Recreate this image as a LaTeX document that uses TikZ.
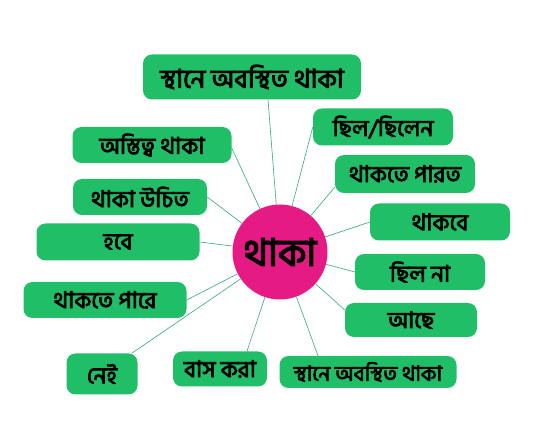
\documentclass[tikz,border=0pt]{standalone}
\usepackage{fontspec}
\newfontfamily\bnfont[Script=Bengali, FakeBold=3.5]{Hind Siliguri}
\usepackage{tikz}
\usetikzlibrary{positioning}

\definecolor{boxgreen}{RGB}{32,190,102}
\definecolor{linkgreen}{RGB}{52,168,118}
\definecolor{hubpink}{RGB}{230,26,132}

\begin{document}
\begin{tikzpicture}[x=1pt, y=-1pt,
      word/.style={fill=boxgreen, rounded corners=9pt, inner sep=0pt,
                   minimum height=36pt, font=\bnfont\fontsize{23}{25}\selectfont},
      hub/.style={circle, fill=hubpink, minimum size=95pt, inner sep=0pt,
                  font=\bnfont\fontsize{38}{41}\selectfont},
      link/.style={draw=linkgreen, line width=0.6pt}]

    \useasboundingbox (0,0) rectangle (560,446);

    % centre word
    \node[hub] (thaka) at (280,252) {থাকা};

    % left side
    \node[word, minimum width=218pt, minimum height=45pt,
          font=\bnfont\fontsize{26}{28}\selectfont] (sthane) at (252,77) {স্থানে অবস্থিত থাকা};
    \node[word, minimum width=159pt] (astitva) at (152,145) {অস্তিত্ব থাকা};
    \node[word, minimum width=134pt] (ucit) at (140,197) {থাকা উচিত};
    \node[word, minimum width=163pt, minimum height=37pt] (habe) at (118,242) {হবে};
    \node[word, minimum width=163pt] (parere) at (105,300) {থাকতে পারে};
    \node[word, minimum width=71pt, minimum height=41pt] (nei) at (102,374) {নেই};
    \node[word, minimum width=94pt, minimum height=35pt] (bas) at (220,369) {বাস করা};
    \node[word, minimum width=177pt, minimum height=32pt,
          font=\bnfont\fontsize{21}{23}\selectfont] (sthanelow) at (368,372) {স্থানে অবস্থিত থাকা};

    % right side
    \node[word, minimum width=140pt, minimum height=37pt] (chhilen) at (383,127) {ছিল/ছিলেন};
    \node[word, minimum width=140pt, minimum height=38pt] (parata) at (405,174) {থাকতে পারত};
    \node[word, minimum width=140pt, minimum height=37pt] (thakbe) at (440,222) {থাকবে};
    \node[word, minimum width=130pt] (chhilna) at (420,272) {ছিল না};
    \node[word, minimum width=132pt, minimum height=34pt] (ache) at (411,320) {আছে};

    % spokes
    \draw[link] (thaka) -- ([xshift=16pt]sthane.south);
    \draw[link] (thaka) -- ([yshift=-3pt]astitva.east);
    \draw[link] (thaka) -- (ucit.east);
    \draw[link] (thaka) -- (habe.east);
    \draw[link] (thaka) -- (parere.east);
    \draw[link] (thaka) -- ([xshift=-6pt]nei.north east);
    \draw[link] (thaka) -- ([xshift=27pt]bas.north);
    \draw[link] (thaka) -- ([xshift=-50pt]sthanelow.north);
    \draw[link] (thaka) -- (chhilen.west);
    \draw[link] (thaka) -- ([yshift=6pt]parata.south west);
    \draw[link] (thaka) -- (thakbe.west);
    \draw[link] (thaka) -- (chhilna.west);
    \draw[link] (thaka) -- ([yshift=10pt]ache.west);

\end{tikzpicture}
\end{document}
